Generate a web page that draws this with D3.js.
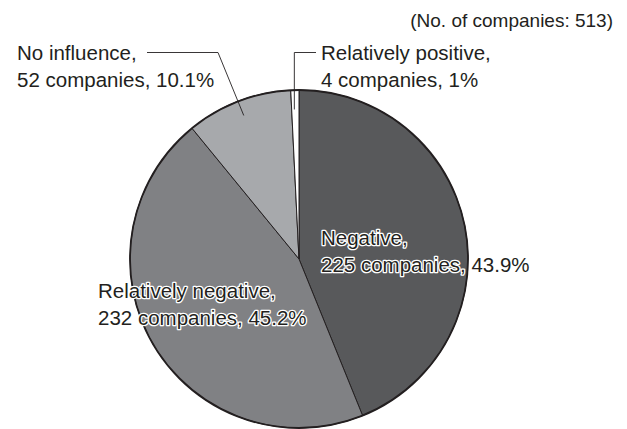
<!DOCTYPE html>
<html>
<head>
<meta charset="utf-8">
<script src="https://cdn.jsdelivr.net/npm/d3@7"></script>
<style>
  body { margin: 0; background: #fff; }
  svg { display: block; font-family: "Liberation Sans", Arial, Helvetica, sans-serif; }
  .halo { paint-order: stroke; stroke: #fff; stroke-width: 2.6px; stroke-linejoin: round; }
</style>
</head>
<body>
<div id="chart"></div>
<script>
const categories = ['Negative', 'Relatively negative', 'No influence', 'Relatively positive'];
const counts = [225, 232, 52, 4];
const percents = ['43.9%', '45.2%', '10.1%', '1%'];
const colors = ['#58595b', '#808184', '#a7a9ac', '#ffffff'];
const total = 513;

const width = 627, height = 429;
const cx = 299, cy = 259, radius = 169;

const svg = d3.select('#chart')
    .append('svg')
    .attr('width', width)
    .attr('height', height);

const data = categories.map((c, i) => ({ name: c, count: counts[i], pct: percents[i], color: colors[i] }));

const pie = d3.pie()
    .value(d => d.count)
    .sort(null);

const arcs = pie(data);
const arc = d3.arc().innerRadius(0).outerRadius(radius);

const g = svg.append('g').attr('transform', `translate(${cx},${cy})`);

g.selectAll('path')
    .data(arcs)
    .join('path')
    .attr('d', arc)
    .attr('fill', d => d.data.color)
    .attr('stroke', '#231f20')
    .attr('stroke-width', 1);

// heavier outer rim
g.append('circle')
    .attr('r', radius)
    .attr('fill', 'none')
    .attr('stroke', '#231f20')
    .attr('stroke-width', 1.8);

// point inside a slice, along its middle angle
function inner(d, k) {
    const a = (d.startAngle + d.endAngle) / 2;
    return [cx + Math.sin(a) * radius * k, cy - Math.cos(a) * radius * k];
}

// leader lines
const noInf = arcs[2], relPos = arcs[3];
const p1 = inner(noInf, 0.91);
const p2 = inner(relPos, 0.885);

svg.append('path')
    .attr('d', `M147,52.5 H218 L${p1[0]},${p1[1]}`)
    .attr('fill', 'none')
    .attr('stroke', '#231f20')
    .attr('stroke-width', 0.9);

svg.append('path')
    .attr('d', `M316,52.5 H${p2[0] - 1} V${p2[1]}`)
    .attr('fill', 'none')
    .attr('stroke', '#231f20')
    .attr('stroke-width', 0.9);

// labels
function label(x, y, lines, size) {
    const t = svg.append('text')
        .attr('class', 'halo')
        .attr('x', x)
        .attr('y', y)
        .attr('fill', '#231f20')
        .style('font-size', (size || 20.5) + 'px');
    lines.forEach((l, i) => {
        t.append('tspan')
            .attr('x', x)
            .attr('dy', i === 0 ? 0 : 26.5)
            .text(l);
    });
}

svg.append('text')
    .attr('x', 613)
    .attr('y', 27)
    .attr('text-anchor', 'end')
    .attr('fill', '#231f20')
    .style('font-size', '19px')
    .text(`(No. of companies: ${total})`);

label(17, 60, [categories[2] + ',', `${counts[2]} companies, ${percents[2]}`]);
label(321, 60, [categories[3] + ',', `${counts[3]} companies, ${percents[3]}`]);
label(321, 245, [categories[0] + ',', `${counts[0]} companies, ${percents[0]}`]);
label(98, 298, [categories[1] + ',', `${counts[1]} companies, ${percents[1]}`]);
</script>
</body>
</html>
